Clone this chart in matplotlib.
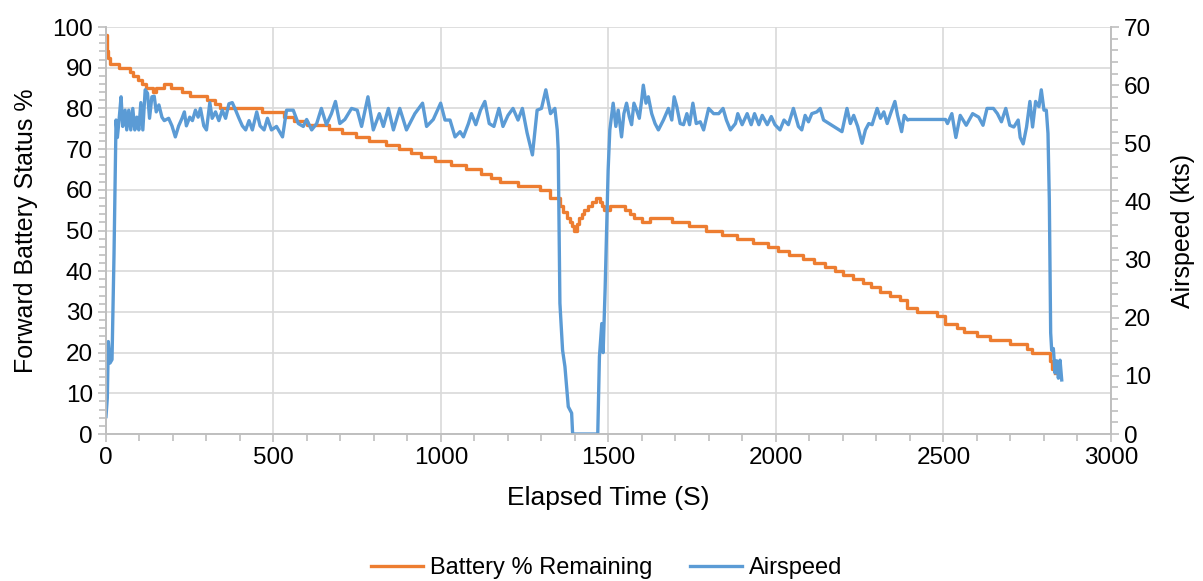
import numpy as np
import matplotlib.pyplot as plt
from matplotlib.ticker import MultipleLocator

plt.rcParams['font.family'] = ['Liberation Sans', 'DejaVu Sans']

# Battery % remaining (step changes), time in seconds
batt_t = [0, 2, 4, 7, 12, 38, 72, 82, 95, 108, 118, 140, 150, 172, 195, 228, 250,
          303, 325, 340, 465, 530, 560, 600, 665, 705, 745, 785, 835, 875, 910,
          940, 982, 1030, 1075, 1120, 1150, 1176, 1230, 1295, 1325, 1355, 1365,
          1375, 1385, 1392, 1398, 1405, 1412, 1420, 1428, 1438, 1450, 1462, 1474,
          1480, 1486, 1505, 1550, 1565, 1576, 1600, 1625, 1690, 1740, 1790, 1840,
          1885, 1930, 1975, 2005, 2040, 2080, 2115, 2145, 2175, 2200, 2230, 2260,
          2285, 2310, 2340, 2370, 2390, 2420, 2480, 2505, 2540, 2560, 2600, 2640,
          2700, 2750, 2765, 2810, 2818, 2825, 2832]
batt_v = [98, 96, 94, 92.5, 91, 90, 89, 88, 87, 86, 85, 84, 85, 86, 85, 84, 83,
          82, 81, 80, 79, 78, 77, 76, 75, 74, 73, 72, 71, 70, 69,
          68, 67, 66, 65, 64, 63, 62, 61, 60, 58, 56, 54.5,
          53, 52, 51, 50, 51.5, 53, 54, 55, 56, 57, 58, 57,
          56, 55, 56, 55, 54, 53, 52, 53, 52, 51, 50, 49,
          48, 47, 46, 45, 44, 43, 42, 41, 40, 39, 38, 37,
          36, 35, 34, 33, 31, 30, 29, 27, 26, 25, 24, 23,
          22, 21, 20, 20, 18, 16, 15]

# Airspeed (kts)
air_t = [0, 4, 7, 12, 18, 24, 30, 34, 39, 45, 50, 57, 62, 68, 74, 80, 86, 92, 98,
         104, 110, 117, 124, 130, 137, 144, 150, 158, 167, 174, 187, 197, 207, 217,
         227, 234, 240, 250, 258, 267, 275, 282, 292, 300, 310, 317, 327, 337, 347,
         357, 367, 377, 387, 397, 407, 417, 427, 437, 450, 460, 472, 482, 494, 509,
         527, 539, 559, 574, 589, 599, 614, 629, 643, 658, 673, 685, 698, 713, 733,
         750, 763, 782, 798, 816, 828, 843, 858, 877, 897, 922, 945, 957, 977, 999,
         1012, 1027, 1042, 1057, 1067, 1082, 1091, 1104, 1118, 1131, 1144, 1158,
         1173, 1185, 1200, 1215, 1230, 1243, 1257, 1273, 1287, 1300, 1313, 1327,
         1340, 1347, 1350, 1355, 1363, 1370, 1380, 1390, 1393, 1468, 1473, 1480,
         1484, 1490, 1499, 1504, 1514, 1522, 1529, 1539, 1546, 1554, 1562, 1569,
         1576, 1584, 1592, 1599, 1604, 1612, 1619, 1629, 1639, 1649, 1664, 1679,
         1689, 1696, 1704, 1714, 1724, 1734, 1742, 1752, 1762, 1774, 1784, 1799,
         1814, 1829, 1842, 1852, 1864, 1879, 1886, 1899, 1914, 1926, 1936, 1949,
         1959, 1974, 1986, 1997, 2012, 2024, 2037, 2052, 2067, 2077, 2087, 2097,
         2107, 2122, 2132, 2142, 2197, 2212, 2222, 2232, 2244, 2257, 2267, 2277,
         2287, 2302, 2312, 2322, 2332, 2342, 2355, 2363, 2375, 2383, 2393, 2398,
         2506, 2512, 2525, 2537, 2550, 2568, 2587, 2605, 2618, 2630, 2649, 2661,
         2673, 2686, 2698, 2710, 2723, 2729, 2738, 2748, 2758, 2766, 2775, 2785,
         2792, 2800, 2807, 2812, 2816, 2820, 2823, 2828, 2833, 2838, 2843, 2848, 2853]
air_v = [3.0, 6.2, 15.9, 12.2, 12.8, 31, 54, 51, 54, 58, 52.9, 55.7, 52.3, 55.7, 52.3,
         56, 52.3, 54.5, 52.3, 57, 52.3, 59.2, 58.6, 54.3, 58, 58.1, 55.4, 56.6, 54.5,
         53.9, 54.3, 53, 51.1, 53, 54.3, 55.4, 53, 54.5, 53.9, 55.7, 54.5, 56, 53,
         52.3, 57, 54.3, 55.4, 53.9, 55.7, 54.3, 56.8, 57, 55.7, 54.3, 53, 52.3, 53.9,
         52.3, 55.4, 53, 52.3, 54.3, 52.3, 52.9, 51.1, 55.7, 55.7, 53.4, 52.9, 54.1,
         52.3, 53.4, 56, 53.2, 55.1, 57.2, 53.4, 54.1, 56, 55.7, 52.9, 58, 52.3, 55.1,
         52.9, 56, 52.3, 56, 52.3, 55.1, 56.9, 52.9, 54.1, 56.9, 54, 54, 51.1, 52,
         51.1, 53.4, 55.1, 53.2, 55.7, 57.2, 53.4, 52.9, 56, 52.9, 54.8, 56, 54, 56,
         51.8, 48, 55.7, 56, 59.2, 55.1, 56, 52.3, 48.8, 22.5, 14.4, 11.6, 4.7, 3.6,
         0, 0, 13.3, 19, 14, 25, 45.4, 52.3, 56.9, 52.9, 55.7, 51.1, 55.1, 56.9, 54.6,
         53.2, 56.9, 55.7, 54.3, 57.4, 60, 56.9, 58, 55.1, 53.4, 52.3, 54, 56, 54, 58,
         56.3, 53.4, 53.2, 55.1, 53.2, 56.9, 53.4, 53.7, 52.3, 56, 55.1, 55.1, 56, 54,
         52.3, 53.4, 55.1, 53.2, 55.1, 53.2, 55.1, 53.2, 54.8, 53.2, 54.6, 53.2, 52.3,
         54, 53.2, 56, 52.9, 52.3, 54.8, 53.7, 55.1, 55.4, 56, 54, 52, 56, 53.4, 54.8,
         52.9, 50, 52.3, 53.4, 53.2, 56, 54.3, 55.4, 53.4, 55.1, 57.2, 54.8, 52, 54.8,
         54, 54.1, 54.1, 53.4, 55.1, 51, 54.8, 53.1, 55.1, 54.5, 53.1, 56, 56, 55.1,
         53.7, 56, 53.1, 52.8, 54, 51, 49.9, 52.8, 57.2, 52.8, 57.2, 56.3, 59.2, 55.7,
         55.7, 51.7, 40.2, 17.4, 14.4, 14.7, 10.5, 12.6, 9.6, 12.7, 9.3]

orange = '#ED7D31'
blue = '#5B9BD5'
grid_c = '#D9D9D9'
axis_c = '#BFBFBF'

fig = plt.figure(figsize=(12.03, 5.81), dpi=100)
ax = fig.add_axes([0.0881, 0.253, 0.8354, 0.7005])
ax2 = ax.twinx()

l1, = ax.plot(batt_t, batt_v, color=orange, lw=2.4, drawstyle='steps-post',
              label='Battery % Remaining')
l2, = ax2.plot(air_t, air_v, color=blue, lw=2.4, label='Airspeed')

ax.set_xlim(0, 3000)
ax.set_ylim(0, 100)
ax2.set_ylim(0, 70)
ax.xaxis.set_major_locator(MultipleLocator(500))
ax.xaxis.set_minor_locator(MultipleLocator(100))
ax.yaxis.set_major_locator(MultipleLocator(10))
ax.yaxis.set_minor_locator(MultipleLocator(2))
ax2.yaxis.set_major_locator(MultipleLocator(10))
ax2.yaxis.set_minor_locator(MultipleLocator(2))

ax.grid(True, which='major', color=grid_c, lw=1.2)
ax.set_axisbelow(True)

for a in (ax, ax2):
    for s in a.spines.values():
        s.set_color(axis_c)
        s.set_linewidth(1.2)
    a.spines['top'].set_visible(False)
    a.tick_params(which='both', colors=axis_c, labelcolor='black', labelsize=17.5,
                  direction='out', width=1.2)
    a.tick_params(which='major', length=6)
    a.tick_params(which='minor', length=5)

ax.set_xlabel('Elapsed Time (S)', fontsize=19, labelpad=12)
ax.set_ylabel('Forward Battery Status %', fontsize=18, labelpad=10)
ax2.set_ylabel('Airspeed (kts)', fontsize=18, labelpad=14)

fig.legend(handles=[l1, l2], loc='center', bbox_to_anchor=(0.5046, 0.022), ncol=2,
           frameon=False, fontsize=17, handlelength=2.2, columnspacing=1.6,
           handletextpad=0.3)

fig.savefig('out.png', dpi=100)
